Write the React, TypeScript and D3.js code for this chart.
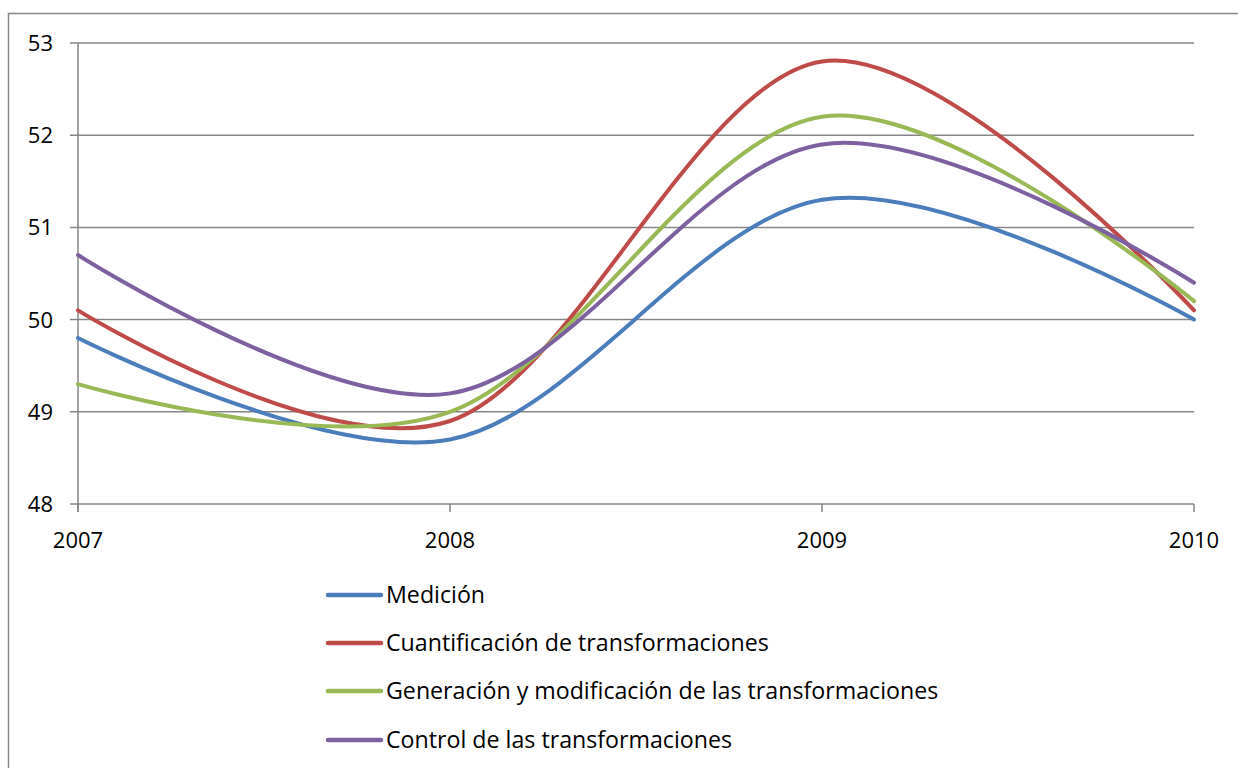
import React from "react";
import * as d3 from "d3";

const years = [2007, 2008, 2009, 2010];
const yTicks = [48, 49, 50, 51, 52, 53];
const seriesNames = [
  "Medición",
  "Cuantificación de transformaciones",
  "Generación y modificación de las transformaciones",
  "Control de las transformaciones",
];
const medicion = [49.8, 48.7, 51.3, 50.0];
const cuantificacion = [50.1, 48.9, 52.8, 50.1];
const generacion = [49.3, 49.0, 52.2, 50.2];
const control = [50.7, 49.2, 51.9, 50.4];
const colors = ["#4A7EBB", "#BE4B48", "#98B954", "#7D60A0"];

const W = 1238;
const H = 768;
const FONT = "'Open Sans', 'Noto Sans', sans-serif";

export default function App() {
  const x = d3.scaleLinear().domain([2007, 2010]).range([78, 1194]);
  const y = d3.scaleLinear().domain([48, 53]).range([504, 43]);
  const seriesValues = [medicion, cuantificacion, generacion, control];
  const line = d3
    .line<[number, number]>()
    .x((d) => x(d[0]))
    .y((d) => y(d[1]))
    .curve(d3.curveCatmullRom.alpha(0));
  const legendY = [595, 643, 691, 740];

  return (
    <svg
      width={W}
      height={H}
      style={{ position: "absolute", left: 0, top: 0, background: "#fff" }}
      fontFamily={FONT}
    >
      <rect x={8.5} y={13.5} width={1240} height={770} fill="none" stroke="#868686" strokeWidth={1.5} />
      {yTicks.map((t) => (
        <g key={t}>
          <line x1={70} x2={1194} y1={y(t)} y2={y(t)} stroke="#868686" strokeWidth={1.5} />
          <text x={53} y={y(t)} dy="0.36em" textAnchor="end" fontSize={22} fill="#000">
            {t}
          </text>
        </g>
      ))}
      <line x1={78} x2={78} y1={43} y2={512} stroke="#868686" strokeWidth={1.5} />
      {years.map((yr) => (
        <g key={yr}>
          <line x1={x(yr)} x2={x(yr)} y1={504} y2={512} stroke="#868686" strokeWidth={1.5} />
          <text x={x(yr)} y={540} dy="0.36em" textAnchor="middle" fontSize={22} fill="#000">
            {yr}
          </text>
        </g>
      ))}
      {seriesValues.map((vals, i) => (
        <path
          key={i}
          d={line(vals.map((v, j) => [years[j], v] as [number, number])) || ""}
          fill="none"
          stroke={colors[i]}
          strokeWidth={4}
          strokeLinecap="round"
        />
      ))}
      {seriesNames.map((n, i) => (
        <g key={n}>
          <line x1={328} x2={381} y1={legendY[i]} y2={legendY[i]} stroke={colors[i]} strokeWidth={4.5} strokeLinecap="round" />
          <text x={386} y={legendY[i]} dy="0.36em" fontSize={23.2} fill="#000">
            {n}
          </text>
        </g>
      ))}
    </svg>
  );
}
